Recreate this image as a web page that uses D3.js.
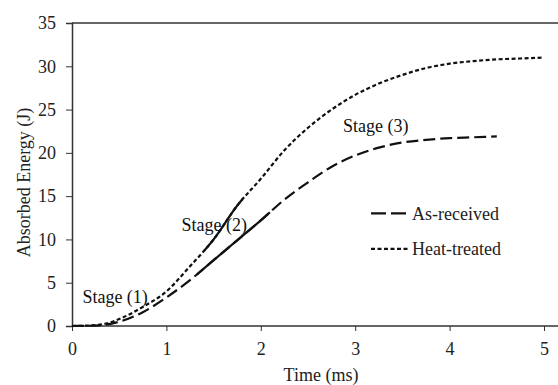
<!DOCTYPE html>
<html>
<head>
<meta charset="utf-8">
<script src="https://cdn.jsdelivr.net/npm/d3@7"></script>
<style>
  html, body { margin: 0; padding: 0; background: #fff; }
  svg { display: block; }
  svg text { font-family: "Liberation Serif", "Times New Roman", Times, "DejaVu Serif", serif !important; }
</style>
</head>
<body>
<svg id="chart" width="558" height="385"></svg>
<script>
// ---- data ----
const heatTime   = [0, 0.25, 0.4, 0.5, 0.75, 1.0, 1.25, 1.5, 1.75, 2.0, 2.25, 2.5, 2.75, 3.0, 3.25, 3.5, 3.75, 4.0, 4.25, 4.5, 4.75, 5.0];
const heatEnergy = [0, 0.1, 0.4, 0.8, 2.2, 4.0, 6.9, 10.0, 13.9, 17.0, 20.3, 22.9, 25.0, 26.7, 28.0, 29.0, 29.8, 30.3, 30.6, 30.8, 30.9, 31.0];
const asTime     = [0, 0.25, 0.5, 0.75, 1.0, 1.25, 1.5, 1.75, 2.0, 2.25, 2.5, 2.75, 3.0, 3.25, 3.5, 3.75, 4.0, 4.25, 4.5];
const asEnergy   = [0, 0.05, 0.5, 1.6, 3.3, 5.3, 7.6, 9.9, 12.2, 14.6, 16.6, 18.4, 19.7, 20.6, 21.2, 21.5, 21.7, 21.8, 21.9];
const heatStage2 = [1.40, 1.81];   // solid segment (time range)
const asStage2   = [1.32, 2.10];
const xTicks = [0, 1, 2, 3, 4, 5];
const yTicks = [0, 5, 10, 15, 20, 25, 30, 35];
const seriesNames = ["As-received", "Heat-treated"];
const stageLabels = ["Stage (1)", "Stage (2)", "Stage (3)"];
const stageAnchors = [[0.11, 2.6], [1.16, 11.0], [2.87, 22.4]];

// ---- layout ----
const svg = d3.select("#chart");
const x = d3.scaleLinear().domain([0, 5]).range([72, 544]);
const y = d3.scaleLinear().domain([0, 35]).range([326, 23]);
const axisColor = "#333";
const fontSize = 18;
const serif = '"Liberation Serif", "Times New Roman", Times, serif';

const heat = heatTime.map((t, i) => ({t, e: heatEnergy[i]}));
const asr  = asTime.map((t, i) => ({t, e: asEnergy[i]}));

const line = d3.line().x(d => x(d.t)).y(d => y(d.e)).curve(d3.curveMonotoneX);

function subPath(data, range) {
  const path = document.createElementNS("http://www.w3.org/2000/svg", "path");
  path.setAttribute("d", line(data));
  svg.node().appendChild(path);
  const L = path.getTotalLength();
  const pts = [];
  for (let l = 0; l <= L; l += 0.5) {
    const p = path.getPointAtLength(l);
    const t = x.invert(p.x);
    if (t >= range[0] && t <= range[1]) pts.push([p.x, p.y]);
  }
  path.remove();
  return d3.line()(pts);
}

// frame lines
svg.append("line").attr("x1", x(0)).attr("x2", 558).attr("y1", y(35)).attr("y2", y(35))
  .attr("stroke", axisColor).attr("stroke-width", 1.5);
svg.append("line").attr("x1", x(0)).attr("x2", 558).attr("y1", y(0)).attr("y2", y(0))
  .attr("stroke", axisColor).attr("stroke-width", 1.5);

const yAxis = d3.axisLeft(y).tickValues(yTicks).tickFormat(d3.format("d")).tickSize(6).tickPadding(10);
const gy = svg.append("g").attr("transform", `translate(${x(0)},0)`).call(yAxis);
const xAxis = d3.axisBottom(x).tickValues(xTicks).tickFormat(d3.format("d")).tickSize(5).tickPadding(11);
const gx = svg.append("g").attr("transform", `translate(0,${y(0)})`).call(xAxis);
[gx, gy].forEach(g => {
  g.attr("font-family", serif);
  g.select(".domain").attr("stroke", axisColor).attr("stroke-width", 1.5);
  g.selectAll(".tick line").attr("stroke", axisColor).attr("stroke-width", 1);
  g.selectAll(".tick text").attr("font-size", fontSize).attr("fill", "#222");
});
gx.select(".domain").remove();

// axis titles
svg.append("text").attr("x", (x(0) + 558) / 2 + 6).attr("y", 381).attr("text-anchor", "middle")
  .attr("font-family", serif).attr("font-size", fontSize).attr("fill", "#222").text("Time (ms)");
svg.append("text").attr("transform", `translate(30,${(y(0) + y(35)) / 2 + 8}) rotate(-90)`)
  .attr("text-anchor", "middle").attr("font-family", serif).attr("font-size", fontSize).attr("fill", "#222").text("Absorbed Energy (J)");

// series
svg.append("path").datum(heat).attr("d", line).attr("fill", "none").attr("stroke", "#111")
  .attr("stroke-width", 2.2).attr("stroke-dasharray", "4,2.5");
svg.append("path").datum(asr).attr("d", line).attr("fill", "none").attr("stroke", "#111")
  .attr("stroke-width", 2.2).attr("stroke-dasharray", "12,5");
svg.append("path").attr("d", subPath(heat, heatStage2)).attr("fill", "none").attr("stroke", "#111").attr("stroke-width", 2.2);
svg.append("path").attr("d", subPath(asr, asStage2)).attr("fill", "none").attr("stroke", "#111").attr("stroke-width", 2.2);

// stage labels
stageLabels.forEach((s, i) => {
  svg.append("text").attr("x", x(stageAnchors[i][0])).attr("y", y(stageAnchors[i][1]))
    .attr("font-family", serif).attr("font-size", fontSize).attr("fill", "#111").text(s);
});

// legend
const legY = [y(13.0), y(8.9)];
const dashes = ["15,5", "4,2.5"];
seriesNames.forEach((n, i) => {
  svg.append("line").attr("x1", 371).attr("x2", 409).attr("y1", legY[i]).attr("y2", legY[i])
    .attr("stroke", "#111").attr("stroke-width", 2.2).attr("stroke-dasharray", dashes[i]);
  svg.append("text").attr("x", 412).attr("y", legY[i]).attr("dy", "0.35em")
    .attr("font-family", serif).attr("font-size", fontSize).attr("fill", "#222").text(n);
});
</script>
</body>
</html>
